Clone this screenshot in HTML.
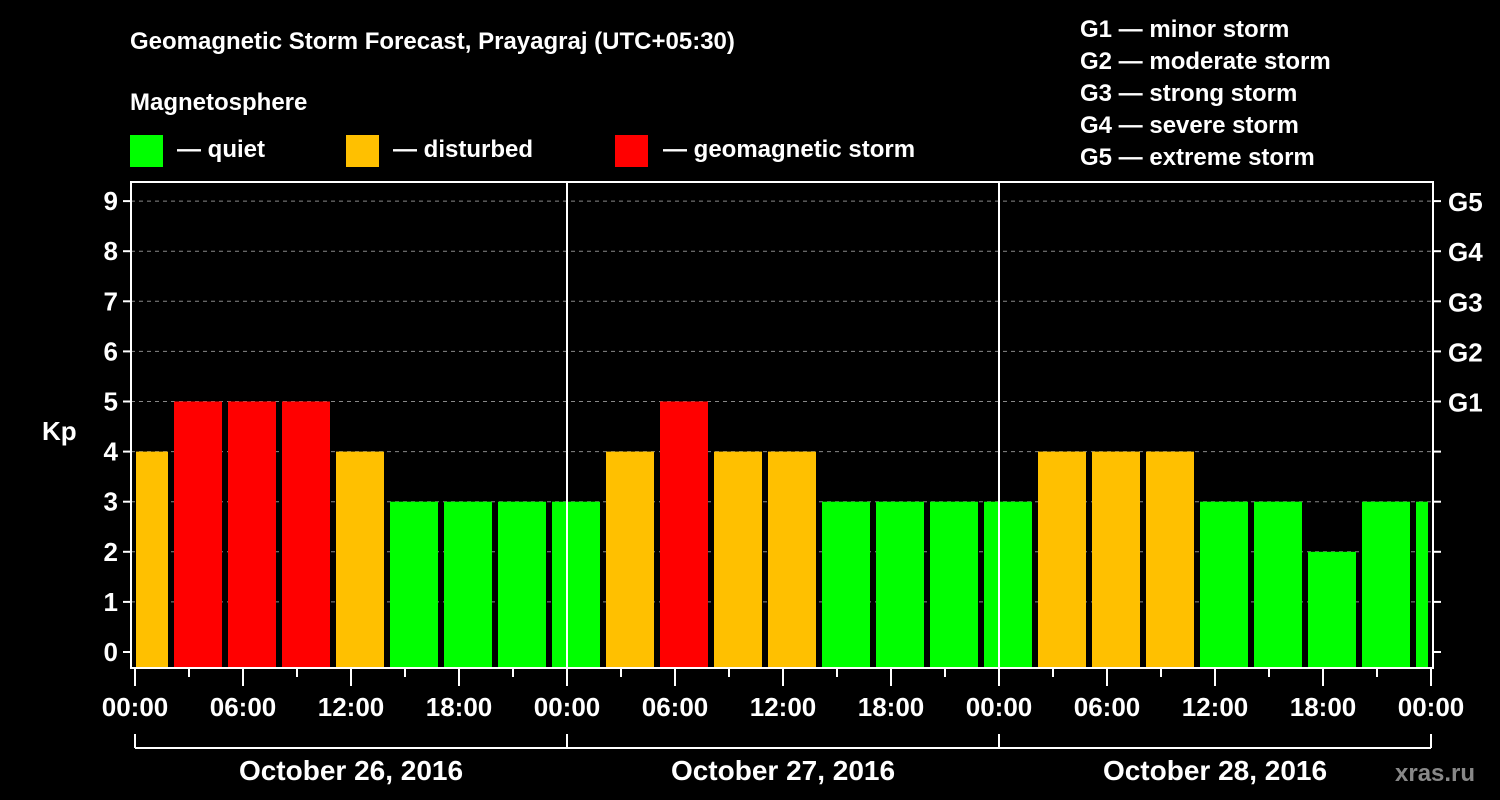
<!DOCTYPE html>
<html><head><meta charset="utf-8"><style>
body{margin:0;background:#000;}
svg{display:block;font-family:"Liberation Sans",sans-serif;font-weight:bold;}
</style></head><body>
<svg id="c" width="1500" height="800">
<text x="130" y="49" fill="#fff" font-size="24">Geomagnetic Storm Forecast, Prayagraj (UTC+05:30)</text>
<text x="130" y="110" fill="#fff" font-size="24">Magnetosphere</text>
<rect x="130" y="135" width="33" height="32" fill="#00ff00"/>
<text x="177" y="157" fill="#fff" font-size="24">— quiet</text>
<rect x="346" y="135" width="33" height="32" fill="#ffc000"/>
<text x="393" y="157" fill="#fff" font-size="24">— disturbed</text>
<rect x="615" y="135" width="33" height="32" fill="#ff0000"/>
<text x="663" y="157" fill="#fff" font-size="24">— geomagnetic storm</text>
<g fill="#fff" font-size="24">
<text x="1080" y="37">G1 — minor storm</text>
<text x="1080" y="69">G2 — moderate storm</text>
<text x="1080" y="101">G3 — strong storm</text>
<text x="1080" y="133">G4 — severe storm</text>
<text x="1080" y="165">G5 — extreme storm</text>
</g>
<text x="42" y="440" fill="#fff" font-size="26">Kp</text>
<text x="1395" y="781" fill="#888" font-size="24">xras.ru</text>
<g id="grid"></g><g id="bars"></g><g id="axes"></g>
</svg>
<script>
const kpValues=[4,5,5,5,4,3,3,3,3,4,5,4,4,3,3,3,3,4,4,4,3,3,2,3,3];
const slotStartHours=-1; // first 3h slot begins at 23:00 previous day (local)
const dayLabels=["October 26, 2016","October 27, 2016","October 28, 2016"];
const hourLabels=["00:00","06:00","12:00","18:00"];
const gLabels=["G1","G2","G3","G4","G5"];
const NS="http://www.w3.org/2000/svg";
const X0=135,PXH=18,Y0=652,PXK=50.1,L=131,R=1433,T=182,B=668;
const x=h=>X0+h*PXH, y=v=>Y0-v*PXK;
function mk(tag,attrs,parent,txt){const e=document.createElementNS(NS,tag);for(const k in attrs)e.setAttribute(k,attrs[k]);if(txt!==undefined)e.textContent=txt;document.getElementById(parent).appendChild(e);return e;}
const col=v=>v>=5?"#ff0000":v>=4?"#ffc000":"#00ff00";
for(let k=0;k<=9;k++){
 if(k>0){const g=mk("line",{x1:L,x2:R,y1:y(k),y2:y(k),stroke:"#888","stroke-dasharray":"4,4","stroke-width":1},"grid");
 
 }
 const t=mk("text",{x:118,y:y(k)+9,fill:"#fff","font-size":26,"text-anchor":"end"},"axes",String(k));
 
 
 mk("line",{x1:L-8,x2:L,y1:y(k),y2:y(k),stroke:"#fff","stroke-width":2},"axes");
 mk("line",{x1:R,x2:R+8,y1:y(k),y2:y(k),stroke:"#fff","stroke-width":2},"axes");
}
gLabels.forEach((g,i)=>{const t=mk("text",{x:1448,y:y(5+i)+10,fill:"#fff","font-size":26},"axes",g);
 
 });
kpValues.forEach((v,i)=>{
 let a=x(slotStartHours+3*i)+3,b=x(slotStartHours+3*i+3)-3;
 a=Math.max(a,X0+1);b=Math.min(b,x(72)-3);
 const r=mk("rect",{x:a,y:y(v),width:b-a,height:667-y(v),fill:col(v)},"bars");
 
 
});
for(let d=1;d<3;d++){const l=mk("line",{x1:x(24*d),x2:x(24*d),y1:T,y2:B,stroke:"#fff","stroke-width":2},"axes");
 
 }
const f=mk("rect",{x:L,y:T,width:R-L,height:B-T,fill:"none",stroke:"#fff","stroke-width":2},"axes");


for(let h=0;h<=72;h+=3){
 mk("line",{x1:x(h),x2:x(h),y1:B,y2:B+(h%6==0?18:9),stroke:"#fff","stroke-width":2},"axes");
 if(h%6==0){const t=mk("text",{x:x(h),y:716,fill:"#fff","font-size":26,"text-anchor":"middle"},"axes",hourLabels[(h/6)%4]);
 
 }
}
mk("line",{x1:x(0),x2:x(72),y1:748,y2:748,stroke:"#fff","stroke-width":2},"axes");
for(let d=0;d<=3;d++)mk("line",{x1:x(24*d),x2:x(24*d),y1:734,y2:748,stroke:"#fff","stroke-width":2},"axes");
dayLabels.forEach((s,d)=>{const t=mk("text",{x:x(24*d+12),y:780,fill:"#fff","font-size":28,"text-anchor":"middle"},"axes",s);
 
 });
</script>
</body></html>
